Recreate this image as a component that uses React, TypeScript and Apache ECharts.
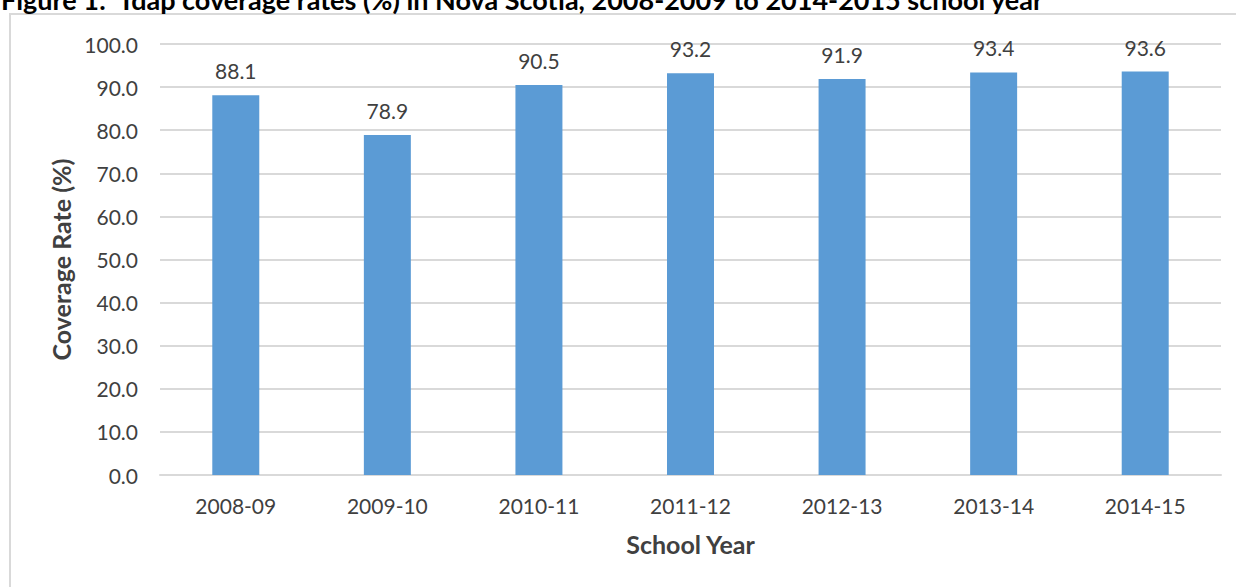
import React, { useEffect, useRef } from "react";
import * as echarts from "echarts";

const schoolYears = ["2008-09", "2009-10", "2010-11", "2011-12", "2012-13", "2013-14", "2014-15"];
const coverageRates = [88.1, 78.9, 90.5, 93.2, 91.9, 93.4, 93.6];
const yMin = 0;
const yMax = 100;
const yStep = 10;

const FONT = "Lato, 'Open Sans', sans-serif";
const TEXT = "#404040";
const GRID = "#D9D9D9";

export default function App() {
  const ref = useRef<HTMLDivElement>(null);

  useEffect(() => {
    if (!ref.current) return;
    const chart = echarts.init(ref.current, undefined, { renderer: "svg" });
    chart.setOption({
      animation: false,
      backgroundColor: "#ffffff",
      textStyle: { fontFamily: FONT },
      graphic: [
        {
          type: "rect",
          z: -10,
          shape: { x: 10, y: 14, width: 1400, height: 800 },
          style: { fill: "none", stroke: GRID, lineWidth: 2 },
        },
        {
          type: "text",
          x: 1,
          y: 13,
          style: {
            text: "Figure 1:  Tdap coverage rates (%) in Nova Scotia, 2008-2009 to 2014-2015 school year",
            fontFamily: FONT,
            fontWeight: "bold",
            fontSize: 27,
            fill: "#000000",
            verticalAlign: "bottom",
          },
        },
      ],
      grid: { left: 160, right: 15, top: 44, bottom: 112 },
      xAxis: {
        type: "category",
        data: schoolYears,
        name: "School Year",
        nameLocation: "middle",
        nameGap: 56,
        nameTextStyle: { fontFamily: FONT, fontWeight: "bold", fontSize: 25, color: TEXT },
        axisLine: { show: true, lineStyle: { color: GRID, width: 2 } },
        axisTick: { show: false },
        axisLabel: { margin: 20, fontSize: 21, color: TEXT, fontFamily: FONT },
      },
      yAxis: {
        type: "value",
        min: yMin,
        max: yMax,
        interval: yStep,
        name: "Coverage Rate (%)",
        nameLocation: "middle",
        nameGap: 86,
        nameTextStyle: { fontFamily: FONT, fontWeight: "bold", fontSize: 25, color: TEXT },
        axisLine: { show: false },
        axisTick: { show: false },
        axisLabel: {
          margin: 22,
          fontSize: 21,
          color: TEXT,
          fontFamily: FONT,
          formatter: (v: number) => v.toFixed(1),
        },
        splitLine: { lineStyle: { color: GRID, width: 2 } },
      },
      series: [
        {
          type: "bar",
          data: coverageRates,
          barWidth: "31%",
          itemStyle: { color: "#5B9BD5" },
          label: {
            show: true,
            position: "top",
            distance: 14,
            fontSize: 21,
            color: TEXT,
            fontFamily: FONT,
            formatter: (p: any) => Number(p.value).toFixed(1),
          },
        },
      ],
    });
    return () => chart.dispose();
  }, []);

  return (
    <div
      ref={ref}
      style={{ position: "fixed", left: 0, top: 0, width: 1236, height: 587 }}
    />
  );
}
